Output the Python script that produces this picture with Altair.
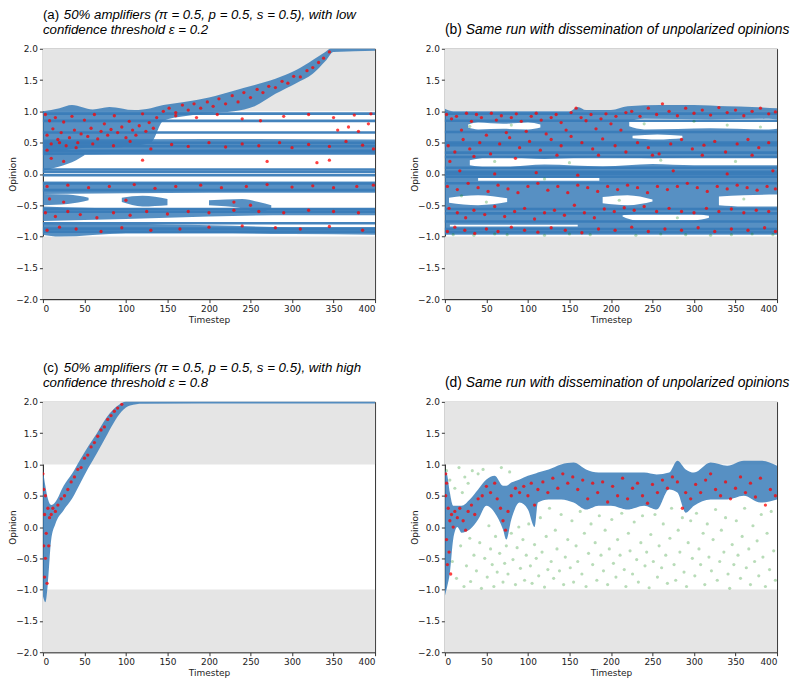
import altair as alt
import pandas as pd

# ---------------- axes / frame values ----------------
X_TICKS = [0, 50, 100, 150, 200, 250, 300, 350, 400]
Y_TICKS = [-2.0, -1.5, -1.0, -0.5, 0.0, 0.5, 1.0, 1.5, 2.0]
SHADE_LO = [-2.0, 1.0]
SHADE_HI = [-1.0, 2.0]
T_START, T_END = 0, 400

TITLE_A = ["(a)", "50% amplifiers (π = 0.5, p = 0.5, s = 0.5), with low", "confidence threshold ε = 0.2"]
TITLE_B = ["(b)", "Same run with dissemination of unpolarized opinions", ""]
TITLE_C = ["(c)", "50% amplifiers (π = 0.5, p = 0.5, s = 0.5), with high", "confidence threshold ε = 0.8"]
TITLE_D = ["(d)", "Same run with dissemination of unpolarized opinions", ""]

# ---------------- stubborn opinion levels (horizontal lines) ----------------
LEVELS_A = [0.964, 0.847, 0.661, 0.497, 0.444, 0.369, 0.327, 0.072, 0.035, -0.019,
            -0.152, -0.258, -0.561, -0.603, -0.789, -0.874, -0.922]
LEVELS_B = [0.964, 0.85, 0.67, 0.5, 0.46, 0.34, 0.27, 0.1, 0.035, 0.0, -0.045,
            -0.15, -0.56, -0.63, -0.76, -0.88, -0.93]

# ---------------- opinion clouds (t, low, high) ----------------
A_UPPER = [(0, 0.35, 1.0), (20, 0.36, 1.05), (35, 0.4, 1.1), (60, 0.42, 1.03), (80, 0.42, 1.07),
           (110, 0.45, 1.02), (130, 0.5, 1.05), (145, 0.85, 1.1), (170, 0.92, 1.15), (200, 0.97, 1.22),
           (230, 1.0, 1.33), (255, 1.08, 1.42), (280, 1.28, 1.52), (305, 1.45, 1.66), (325, 1.6, 1.82),
           (340, 1.8, 1.95), (350, 1.95, 2.03), (400, 1.97, 2.03)]
A_MID = [(0, 0.3, 0.55), (200, 0.33, 0.56), (400, 0.33, 0.55)]
A_LOWMID = [(0, 0.05, 0.35), (20, 0.12, 0.33), (40, 0.22, 0.33), (50, 0.3, 0.33)]
A_NEG1 = [(0, -0.32, -0.12), (200, -0.3, -0.12), (400, -0.3, -0.12)]
A_NEG2 = [(0, -0.5, -0.32), (30, -0.48, -0.33), (55, -0.42, -0.38)]
A_NEG2B = [(95, -0.45, -0.38), (120, -0.52, -0.35), (150, -0.5, -0.4)]
A_NEG2C = [(200, -0.5, -0.42), (240, -0.55, -0.4), (260, -0.62, -0.45), (275, -0.55, -0.5)]
A_NEG3 = [(0, -0.75, -0.52), (100, -0.72, -0.55), (200, -0.68, -0.55), (300, -0.66, -0.55), (400, -0.66, -0.55)]
A_NEG4 = [(0, -0.97, -0.78), (20, -1.0, -0.8), (100, -0.95, -0.8), (200, -0.95, -0.82),
          (300, -0.96, -0.85), (400, -0.97, -0.85)]

B_ALL = [(0, -0.97, 1.04), (10, -0.97, 1.0), (100, -0.97, 1.0), (150, -0.97, 1.0), (160, -0.97, 1.07),
         (170, -0.97, 1.02), (200, -0.97, 1.02), (220, -0.97, 1.08), (260, -0.97, 1.1), (300, -0.97, 1.1),
         (340, -0.97, 1.08), (370, -0.97, 1.07), (400, -0.97, 1.05)]
B_GAP1 = [(28, 0.74, 0.79), (40, 0.71, 0.82), (70, 0.72, 0.8), (100, 0.71, 0.82), (115, 0.74, 0.79)]
B_GAP2 = [(30, 0.14, 0.22), (60, 0.1, 0.27), (120, 0.15, 0.24), (190, 0.12, 0.27), (250, 0.16, 0.25),
          (300, 0.14, 0.27), (400, 0.14, 0.26)]
B_GAP3 = [(5, -0.46, -0.38), (40, -0.5, -0.34), (75, -0.45, -0.39)]
B_GAP3B = [(190, -0.47, -0.37), (220, -0.5, -0.34), (250, -0.44, -0.41)]
B_GAP3C = [(330, -0.5, -0.36), (360, -0.52, -0.34), (400, -0.52, -0.33)]
B_GAP4 = [(222, 0.76, 0.84), (240, 0.71, 0.88), (320, 0.73, 0.87), (390, 0.71, 0.88), (400, 0.72, 0.87)]
B_GAP5 = [(226, 0.57, 0.61), (256, 0.55, 0.63), (286, 0.57, 0.61)]
B_GAP6 = [(214, -0.68, -0.66), (230, -0.74, -0.64), (300, -0.74, -0.64), (318, -0.7, -0.67)]
B_GAP7 = [(6, -0.84, -0.81), (160, -0.84, -0.81)]
B_GAP8 = [(40, -0.11, -0.06), (186, -0.11, -0.06)]

C_BAND = [(0, -1.1, 0.92), (3, -1.2, 0.65), (6, -0.9, 0.45), (10, -0.2, 0.35), (15, 0.05, 0.4),
          (25, 0.27, 0.66), (35, 0.45, 0.85), (45, 0.7, 1.08), (55, 0.95, 1.3), (65, 1.18, 1.5),
          (75, 1.42, 1.72), (85, 1.66, 1.88), (95, 1.85, 1.98), (105, 1.94, 2.03), (120, 1.97, 2.03),
          (400, 1.975, 2.03)]

D_BAND = [(0, -1.1, 0.92), (3, -0.94, 0.82), (6, -0.73, 0.55), (10, -0.2, 0.34), (15, 0.0, 0.34),
          (20, -0.09, 0.34), (30, -0.04, 0.44), (40, 0.12, 0.6), (50, 0.34, 0.76), (60, 0.23, 0.82),
          (70, -0.04, 0.66), (74, -0.2, 0.66), (80, 0.12, 0.71), (90, 0.39, 0.76), (100, 0.28, 0.82),
          (108, 0.0, 0.85), (112, 0.39, 0.87), (125, 0.44, 0.92), (140, 0.44, 1.0), (155, 0.39, 1.03),
          (170, 0.28, 0.92), (185, 0.34, 0.87), (200, 0.34, 0.87), (220, 0.28, 0.87), (240, 0.34, 0.87),
          (255, 0.28, 0.84), (270, 0.6, 0.87), (280, 0.55, 1.06), (290, 0.23, 0.92), (300, 0.34, 0.87),
          (320, 0.44, 1.03), (340, 0.44, 0.98), (360, 0.5, 1.06), (380, 0.39, 1.06), (400, 0.44, 0.98)]

# ---------------- red (amplifier) dots ----------------
RED_A = [(3, 0.95), (5, 0.62), (8, 0.85), (10, 0.48), (12, 0.72), (15, 0.9), (18, 0.55), (22, 0.66),
         (25, 0.83), (28, 0.45), (32, 0.58), (35, 0.92), (38, 0.7), (42, 0.5), (46, 0.64), (50, 0.86),
         (54, 0.6), (58, 0.73), (62, 0.95), (66, 0.56), (70, 0.68), (74, 0.8), (78, 0.62), (82, 0.71),
         (86, 0.93), (90, 0.66), (95, 0.75), (100, 0.58), (104, 0.84), (108, 0.7), (112, 0.62), (116, 0.77),
         (120, 0.96), (124, 0.68), (128, 0.82), (133, 0.73), (137, 0.9),
         (145, 1.0), (152, 1.05), (160, 0.98), (168, 1.1), (175, 1.02), (182, 1.12), (190, 1.05), (198, 1.15),
         (205, 1.08), (212, 1.2), (220, 1.12), (228, 1.25), (235, 1.15), (242, 1.3), (250, 1.22), (258, 1.35),
         (265, 1.3), (272, 1.4), (280, 1.38), (288, 1.48), (295, 1.45), (302, 1.56), (310, 1.55), (318, 1.65),
         (325, 1.7), (332, 1.78), (338, 1.85), (345, 1.95),
         (5, 0.38), (20, 0.5), (40, 0.42), (60, 0.48), (85, 0.45), (105, 0.52), (130, 0.4), (155, 0.47),
         (175, 0.44), (200, 0.5), (220, 0.43), (240, 0.48), (260, 0.45), (285, 0.5), (300, 0.42), (320, 0.47),
         (345, 0.44), (365, 0.52), (385, 0.46), (398, 0.4),
         (160, 0.93), (185, 0.9), (210, 0.95), (240, 0.88), (262, 0.85), (290, 0.92), (320, 0.95), (350, 0.9),
         (375, 0.94), (395, 0.96), (355, 0.7), (368, 0.75), (380, 0.68), (392, 0.8),
         (10, 0.25), (25, 0.2), (120, 0.22), (270, 0.2), (330, 0.18), (345, 0.22),
         (5, -0.2), (30, -0.18), (55, -0.22), (80, -0.2), (110, -0.17), (135, -0.23), (160, -0.2), (190, -0.18),
         (215, -0.22), (245, -0.2), (270, -0.17), (300, -0.21), (325, -0.19), (350, -0.22), (378, -0.2),
         (398, -0.18), (8, -0.4), (25, -0.45), (100, -0.42), (230, -0.45), (250, -0.5),
         (3, -0.62), (15, -0.68), (30, -0.6), (45, -0.65), (65, -0.7), (85, -0.62), (105, -0.66), (125, -0.6),
         (150, -0.64), (175, -0.6), (200, -0.62), (230, -0.58), (260, -0.6), (290, -0.62), (320, -0.58),
         (350, -0.6), (380, -0.62),
         (5, -0.9), (20, -0.85), (40, -0.88), (70, -0.92), (95, -0.86), (130, -0.9), (165, -0.88), (200, -0.85),
         (240, -0.83), (280, -0.86), (310, -0.88), (345, -0.84), (385, -0.9)]

RED_B = [(2, 0.95), (8, 0.88), (14, 0.92), (20, 0.7), (26, 0.97), (32, 0.84), (38, 0.95), (44, 0.9),
         (50, 0.62), (56, 0.97), (62, 0.86), (68, 0.93), (74, 0.66), (80, 0.9), (86, 0.96), (92, 0.84),
         (98, 0.68), (104, 0.92), (110, 0.97), (116, 0.86), (122, 0.64), (128, 0.9), (134, 0.95), (140, 0.82),
         (146, 0.7), (152, 0.98), (158, 1.05), (164, 0.9), (170, 0.85), (176, 0.95), (182, 0.72), (188, 0.88),
         (194, 0.96), (200, 0.8), (206, 0.92), (212, 0.7), (218, 0.98),
         (225, 1.0), (235, 0.92), (245, 1.05), (255, 0.95), (262, 1.12), (270, 1.0), (280, 0.93), (290, 1.05),
         (300, 0.97), (310, 1.02), (320, 0.94), (330, 1.06), (340, 0.98), (350, 1.02), (360, 0.93), (370, 1.0),
         (380, 1.05), (390, 0.96), (398, 0.99),
         (4, 0.45), (12, 0.35), (22, 0.55), (30, 0.4), (42, 0.5), (55, 0.32), (66, 0.48), (78, 0.58), (90, 0.42),
         (102, 0.52), (115, 0.38), (128, 0.55), (140, 0.45), (152, 0.6), (165, 0.5), (178, 0.4), (190, 0.56),
         (205, 0.45), (218, 0.35), (232, 0.5), (245, 0.42), (258, 0.32), (272, 0.48), (285, 0.55), (298, 0.4),
         (312, 0.46), (325, 0.52), (338, 0.35), (352, 0.48), (365, 0.55), (378, 0.42), (390, 0.5),
         (6, 0.2), (18, 0.05), (35, 0.28), (60, 0.0), (85, 0.25), (110, 0.02), (135, 0.3), (160, -0.02),
         (185, 0.3), (250, 0.3), (275, 0.05), (310, 0.3), (340, 0.0), (370, 0.3), (395, 0.05),
         (3, -0.2), (15, -0.25), (28, -0.15), (40, -0.22), (52, -0.28), (64, -0.18), (76, -0.24), (88, -0.3),
         (100, -0.2), (112, -0.15), (124, -0.26), (136, -0.2), (148, -0.3), (160, -0.18), (172, -0.22),
         (184, -0.28), (196, -0.2), (208, -0.25), (220, -0.18), (232, -0.22), (244, -0.3), (256, -0.2),
         (268, -0.25), (280, -0.2), (292, -0.15), (304, -0.22), (316, -0.28), (328, -0.2), (340, -0.24),
         (352, -0.18), (364, -0.22), (376, -0.26), (388, -0.2), (398, -0.24),
         (5, -0.55), (15, -0.62), (25, -0.7), (35, -0.58), (48, -0.65), (60, -0.52), (72, -0.68), (84, -0.6),
         (96, -0.55), (108, -0.72), (120, -0.62), (132, -0.58), (144, -0.66), (156, -0.5), (168, -0.62),
         (180, -0.7), (192, -0.56), (204, -0.6), (216, -0.54), (228, -0.58), (240, -0.52), (255, -0.6),
         (270, -0.55), (285, -0.6), (300, -0.62), (315, -0.55), (330, -0.6), (345, -0.56), (360, -0.62),
         (375, -0.58), (390, -0.6),
         (3, -0.92), (12, -0.85), (24, -0.9), (36, -0.95), (50, -0.88), (64, -0.92), (80, -0.85), (96, -0.9),
         (112, -0.93), (128, -0.86), (145, -0.9), (165, -0.94), (185, -0.88), (205, -0.9), (225, -0.85),
         (245, -0.92), (265, -0.88), (285, -0.9), (305, -0.86), (325, -0.92), (345, -0.88), (365, -0.9),
         (385, -0.86), (398, -0.92)]

RED_C = [(0, 0.85), (1, 0.6), (1, -0.3), (2, 0.2), (2, -0.8), (3, 0.5), (3, -0.5), (4, -0.1), (5, -0.9),
         (6, 0.3), (7, -0.3), (8, 0.15), (10, 0.2), (12, 0.3), (15, 0.25), (18, 0.35), (22, 0.45), (26, 0.5),
         (30, 0.6), (34, 0.72), (38, 0.8), (42, 0.92), (46, 0.95), (50, 1.1), (54, 1.15), (58, 1.28),
         (62, 1.35), (66, 1.45), (70, 1.55), (74, 1.6), (78, 1.72), (82, 1.78), (86, 1.85), (90, 1.9), (95, 1.96)]

RED_D = [(1, 0.85), (1, 0.5), (2, -0.2), (2, 0.7), (3, -0.6), (4, 0.3), (5, -0.4), (6, 0.1), (7, -0.75),
         (8, 0.2), (10, 0.0), (12, 0.25), (15, 0.15), (18, 0.3), (22, 0.1), (25, -0.05), (28, 0.25),
         (32, 0.35), (36, 0.2), (40, 0.45), (45, 0.5), (50, 0.65), (55, 0.55), (60, 0.7), (63, 0.45),
         (67, 0.3), (70, 0.1), (73, -0.05), (76, 0.25), (80, 0.5), (85, 0.62), (90, 0.55), (95, 0.65),
         (100, 0.5), (104, 0.7), (108, 0.35), (112, 0.6), (118, 0.72), (124, 0.55), (130, 0.78), (136, 0.62),
         (142, 0.85), (148, 0.7), (154, 0.8), (160, 0.6), (166, 0.75), (172, 0.45), (178, 0.7), (184, 0.55),
         (190, 0.72), (196, 0.4), (202, 0.65), (208, 0.5), (214, 0.78), (220, 0.45), (226, 0.62), (232, 0.7),
         (238, 0.5), (244, 0.38), (250, 0.68), (256, 0.55), (262, 0.75), (268, 0.62), (274, 0.8), (280, 0.72),
         (286, 0.3), (290, 0.55), (296, 0.45), (302, 0.68), (308, 0.55), (314, 0.75), (320, 0.85), (326, 0.6),
         (332, 0.5), (338, 0.72), (344, 0.45), (350, 0.62), (356, 0.8), (362, 0.55), (368, 0.7), (374, 0.48),
         (380, 0.78), (386, 0.35), (392, 0.6), (398, 0.5)]

# ---------------- green (disseminated unpolarized) dots ----------------
GREEN_B = [(10, -0.97), (35, -0.98), (60, -0.96), (75, -0.97), (120, -0.98), (150, -0.96), (175, -0.97),
           (230, -0.98), (260, -0.96), (290, -0.97), (320, -0.98), (345, -0.97), (370, -0.96), (395, -0.97),
           (30, 0.76), (80, 0.78), (240, 0.8), (300, 0.84), (340, 0.78), (60, 0.2), (150, 0.18), (260, 0.22),
           (350, 0.2), (50, -0.45), (210, -0.42), (360, -0.4), (280, -0.7), (120, -0.08), (20, -0.35), (380, 0.75)]

GREEN_D = [(2, 0.9), (6, 0.75), (9, -0.55), (12, 0.62), (14, -0.82), (17, 0.95), (19, -0.3), (21, 0.55),
           (23, -0.95), (24, 0.8), (26, -0.62), (28, 0.7), (30, -0.18), (31, -0.87), (33, 0.9), (35, -0.45),
           (38, -0.7), (40, 0.85), (42, -0.25), (44, -0.98), (46, 0.92), (48, -0.5), (51, -0.8), (53, 0.02),
           (55, -0.35), (57, -0.6), (59, -0.95), (61, -0.15), (63, -0.72), (66, -0.42), (68, 0.95), (70, -0.88),
           (72, -0.58), (74, -0.3), (76, -0.75), (78, 0.88), (80, -0.1), (82, -0.52), (85, -0.92), (87, -0.33),
           (89, 0.0), (91, -0.66), (94, -0.2), (96, -0.85), (98, -0.45), (101, 0.05), (103, -0.62), (105, -0.9),
           (108, -0.28), (110, -0.5), (113, -0.78), (115, 0.15), (117, -0.4), (120, -0.96), (122, -0.15),
           (124, -0.68), (126, 0.3), (128, -0.55), (131, -0.82), (133, -0.05), (135, -0.35), (138, -0.7),
           (140, 0.2), (143, -0.92), (145, -0.48), (148, -0.2), (151, -0.65), (153, 0.1), (155, -0.88),
           (158, -0.3), (160, -0.55), (163, 0.25), (165, -0.75), (168, -0.1), (170, -0.95), (173, -0.42),
           (176, 0.05), (178, -0.6), (181, -0.25), (183, -0.85), (186, 0.18), (188, -0.45), (191, -0.7),
           (193, -0.05), (196, -0.92), (198, -0.35), (201, 0.12), (203, -0.58), (206, -0.8), (208, -0.2),
           (211, -0.45), (213, 0.22), (216, -0.68), (218, -0.95), (221, -0.1), (223, -0.38), (226, -0.75),
           (228, 0.08), (231, -0.52), (233, -0.88), (236, -0.25), (238, 0.18), (241, -0.62), (243, -0.4),
           (246, -0.97), (248, -0.12), (251, -0.55), (253, 0.2), (256, -0.8), (258, -0.3), (261, -0.65),
           (263, 0.05), (266, -0.45), (268, -0.9), (271, -0.18), (273, 0.3), (276, -0.6), (278, -0.85),
           (281, -0.05), (283, -0.4), (286, 0.15), (288, -0.72), (291, -0.95), (293, -0.25), (296, 0.1),
           (298, -0.5), (301, -0.78), (303, 0.22), (306, -0.35), (308, -0.6), (311, -0.1), (313, -0.92),
           (316, 0.05), (318, -0.48), (321, -0.7), (323, -0.2), (326, 0.28), (328, -0.85), (331, -0.55),
           (333, -0.05), (336, -0.4), (338, 0.15), (341, -0.75), (343, -0.98), (346, -0.28), (348, -0.6),
           (351, 0.1), (353, -0.45), (356, -0.82), (358, -0.15), (361, 0.3), (363, -0.65), (366, -0.35),
           (368, -0.92), (371, 0.02), (373, -0.55), (376, -0.22), (378, -0.78), (381, 0.2), (383, -0.48),
           (386, -0.95), (388, -0.1), (391, -0.68), (393, 0.25), (396, -0.38), (398, -0.85)]

# ---------------- styling ----------------
W, H = 333, 251
BLUE = "#3a7cb8"
SHADE = "#e5e5e5"
TITLE_FONT = "Liberation Sans"

XS = alt.Scale(domain=[T_START, T_END], nice=False, zero=False)
YS = alt.Scale(domain=[Y_TICKS[0], Y_TICKS[-1]], nice=False, zero=False)
XAX = alt.Axis(values=X_TICKS, title="Timestep", format="d", titlePadding=2)
YAX = alt.Axis(values=Y_TICKS, title="Opinion", format=".1f", titlePadding=-2)


def bands_df(named):
    rows = []
    for name, pts in named.items():
        for t, lo, hi in pts:
            rows.append({"band": name, "t": t, "lo": lo, "hi": hi})
    return pd.DataFrame(rows)


def pts_df(pts):
    return pd.DataFrame({"t": [p[0] for p in pts], "v": [p[1] for p in pts]})


def panel(title, bands, gaps, levels, reds, greens, tsize):
    shade = alt.Chart(pd.DataFrame({"t0": [T_START] * 2, "t1": [T_END] * 2,
                                    "lo": SHADE_LO, "hi": SHADE_HI})).mark_rect(color=SHADE).encode(
        x=alt.X("t0:Q", scale=XS, axis=XAX), x2="t1:Q",
        y=alt.Y("lo:Q", scale=YS, axis=YAX), y2="hi:Q")
    layers = [shade]
    layers.append(alt.Chart(bands_df(bands)).mark_area(
        color=BLUE, opacity=0.85, interpolate="monotone", clip=True).encode(
        x=alt.X("t:Q", scale=XS, axis=XAX),
        y=alt.Y("lo:Q", scale=YS, axis=YAX), y2="hi:Q", detail="band:N"))
    if gaps:
        layers.append(alt.Chart(bands_df(gaps)).mark_area(
            color="white", opacity=1, interpolate="monotone", clip=True).encode(
            x=alt.X("t:Q", scale=XS, axis=XAX),
            y=alt.Y("lo:Q", scale=YS, axis=YAX), y2="hi:Q", detail="band:N"))
    if levels:
        layers.append(alt.Chart(pd.DataFrame({"v": levels, "t0": [T_START] * len(levels),
                                              "t1": [T_END] * len(levels)})).mark_rule(
            color=BLUE, strokeWidth=2.6, opacity=0.95).encode(
            x=alt.X("t0:Q", scale=XS, axis=XAX), x2="t1:Q",
            y=alt.Y("v:Q", scale=YS, axis=YAX)))
    if greens:
        layers.append(alt.Chart(pts_df(greens)).mark_circle(
            color="green", size=10, opacity=0.28, clip=True).encode(
            x=alt.X("t:Q", scale=XS, axis=XAX), y=alt.Y("v:Q", scale=YS, axis=YAX)))
    layers.append(alt.Chart(pts_df(reds)).mark_circle(
        color="red", size=11, opacity=0.75, clip=True).encode(
        x=alt.X("t:Q", scale=XS, axis=XAX), y=alt.Y("v:Q", scale=YS, axis=YAX)))

    tag, line1, line2 = title
    two_lines = bool(line2)
    y1 = -30 if two_lines else -15
    layers.append(alt.Chart(pd.DataFrame({"s": [tag]})).mark_text(
        align="left", baseline="alphabetic", font=TITLE_FONT, fontSize=tsize, color="black").encode(
        x=alt.value(0), y=alt.value(y1), text="s:N"))
    layers.append(alt.Chart(pd.DataFrame({"s": [line1]})).mark_text(
        align="left", baseline="alphabetic", font=TITLE_FONT, fontSize=tsize, fontStyle="italic",
        color="black").encode(x=alt.value(21), y=alt.value(y1), text="s:N"))
    if two_lines:
        layers.append(alt.Chart(pd.DataFrame({"s": [line2]})).mark_text(
            align="left", baseline="alphabetic", font=TITLE_FONT, fontSize=tsize, fontStyle="italic",
            color="black").encode(x=alt.value(0), y=alt.value(-15), text="s:N"))
    return alt.layer(*layers).properties(width=W, height=H)


pa = panel(TITLE_A,
           {"upper": A_UPPER, "mid": A_MID, "lowmid": A_LOWMID, "n1": A_NEG1, "n2": A_NEG2,
            "n2b": A_NEG2B, "n2c": A_NEG2C, "n3": A_NEG3, "n4": A_NEG4},
           None, LEVELS_A, RED_A, None, 13.3)
pb = panel(TITLE_B, {"all": B_ALL},
           {"g1": B_GAP1, "g2": B_GAP2, "g3": B_GAP3, "g3b": B_GAP3B, "g3c": B_GAP3C, "g4": B_GAP4,
            "g5": B_GAP5, "g6": B_GAP6, "g7": B_GAP7, "g8": B_GAP8},
           LEVELS_B, RED_B, GREEN_B, 13.9)
pc = panel(TITLE_C, {"c": C_BAND}, None, None, RED_C, None, 13.3)
pd_ = panel(TITLE_D, {"d": D_BAND}, None, None, RED_D, GREEN_D, 13.9)

chart = alt.concat(pa, pb, pc, pd_, columns=2, spacing={"row": 103, "column": 70}, bounds="flush").properties(
    padding={"left": 0, "top": -2, "right": 0, "bottom": 0}
).configure_view(stroke="#333", strokeWidth=1).configure_axis(
    labelFont="DejaVu Sans", labelFontSize=9, labelColor="#222",
    titleFont="DejaVu Sans", titleFontSize=9, titleFontWeight="normal", titleColor="#222",
    tickColor="#333", domainColor="#333", tickSize=3.5, labelPadding=2, grid=False
)

chart.save("out.html", embed_options={"renderer": "svg", "actions": False})
